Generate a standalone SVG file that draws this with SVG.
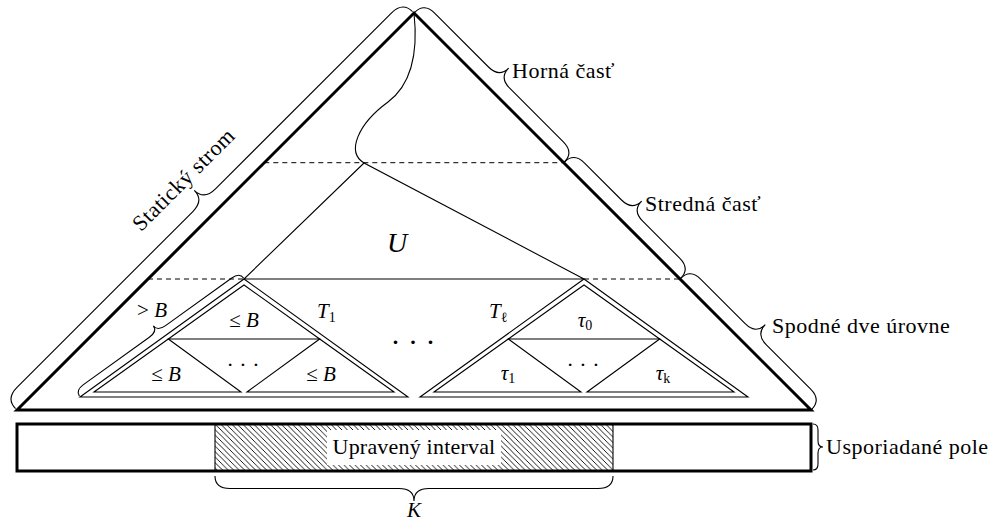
<svg xmlns="http://www.w3.org/2000/svg" width="994" height="522" viewBox="0 0 994 522">
<defs>
<style>
.thin{fill:none;stroke:#000;stroke-width:1.1;stroke-linejoin:miter}
.thick{fill:none;stroke:#000;stroke-width:3;stroke-linejoin:miter}
.dash{fill:none;stroke:#000;stroke-width:1;stroke-dasharray:5 4}
.brace{fill:none;stroke:#000;stroke-width:1.1}
.t{font-family:"Liberation Serif","Times New Roman",serif;font-size:21px;fill:#000}
.lab{font-size:22px;letter-spacing:0.5px}
.m{font-family:"Liberation Serif","Times New Roman",serif;font-size:21px;font-style:italic;fill:#000}
.c{text-anchor:middle}
.sub{font-size:14px;font-style:normal}
</style>
<pattern id="hatch" patternUnits="userSpaceOnUse" width="5.5" height="5.5">
<path d="M0,0 L5.5,5.5 M-1,4.5 L1,6.5 M4.5,-1 L6.5,1" stroke="#000" stroke-width="0.9"/>
</pattern>
</defs>
<rect width="994" height="522" fill="#fff"/>

<g id="array">
<rect x="215" y="424" width="398" height="47" fill="url(#hatch)"/>
<line x1="215" y1="424" x2="215" y2="471" class="thin"/>
<line x1="613" y1="424" x2="613" y2="471" class="thin"/>
<rect x="17" y="424" width="794" height="47" class="thick"/>
<rect x="327" y="430" width="174" height="35" fill="#fff"/>
<text x="414" y="454" class="t c" style="font-size:22px;letter-spacing:0.2px">Upravený interval</text>
</g>

<g id="static-tree">
<polygon points="17,410 414,13 811,410" class="thick"/>
</g>

<g id="levels">
<line x1="264.3" y1="162.7" x2="563.7" y2="162.7" class="dash"/>
<line x1="148" y1="279" x2="244" y2="279" class="dash"/>
<line x1="584" y1="279" x2="680" y2="279" class="dash"/>
</g>

<g id="U">
<polygon points="364,163 244,279 584,279" class="thin"/>
<text x="397" y="252" class="m c" style="font-size:28px">U</text>
</g>

<g id="T1">
<polygon points="80,397 244,279 408,397" class="thin"/>
<polygon points="168.3,339 244,285 319.7,339" class="thin"/>
<polygon points="94,392 168.3,339 241,392" class="thin"/>
<polygon points="247,392 319.7,339 394,392" class="thin"/>
<text x="317" y="318" class="m">T<tspan class="sub" dy="4">1</tspan></text>
<text x="244" y="327" class="t c">≤ <tspan font-style="italic">B</tspan></text>
<text x="166" y="381" class="t c">≤ <tspan font-style="italic">B</tspan></text>
<text x="321" y="381" class="t c">≤ <tspan font-style="italic">B</tspan></text>
<text x="243" y="372" class="t c" style="font-size:22px">· · ·</text>
</g>

<g id="between">
<text x="413" y="352" class="t c" style="font-size:30px">· · ·</text>
</g>

<g id="Tl">
<polygon points="420,397 584,279 748,397" class="thin"/>
<polygon points="508.3,339 584,285 659.7,339" class="thin"/>
<polygon points="434,392 508.3,339 581,392" class="thin"/>
<polygon points="587,392 659.7,339 734,392" class="thin"/>
<text x="489" y="318" class="m">T<tspan class="sub" dy="4">ℓ</tspan></text>
<text x="585" y="327" class="m c">τ<tspan class="sub" dy="3">0</tspan></text>
<text x="508" y="380" class="m c">τ<tspan class="sub" dy="3">1</tspan></text>
<text x="663" y="380" class="m c">τ<tspan class="sub" dy="3" font-style="italic">k</tspan></text>
<text x="583" y="372" class="t c" style="font-size:22px">· · ·</text>
</g>

<g id="connectors">
<path d="M414,13 C418,50 412,84 388,102 C358,124 346,152 364,163" class="thin"/>
</g>

<g id="brace-static" transform="translate(17,410) rotate(-45) translate(0,-2)">
<path class="brace" d="M0,0 Q0,-14 16,-14 L264.7,-14 Q280.7,-14 280.7,-28 Q280.7,-14 296.7,-14 L545.4,-14 Q561.4,-14 561.4,0"/>
<text x="280.7" y="-36" class="t lab c">Statický strom</text>
</g>

<g id="brace-top">
<path class="brace" transform="translate(414,13) rotate(45) translate(0,-1)" d="M0,0 Q0,-13.5 15,-13.5 L90.85,-13.5 Q105.85,-13.5 105.85,-27 Q105.85,-13.5 120.85,-13.5 L196.7,-13.5 Q211.7,-13.5 211.7,0"/>
<text x="512" y="78" class="t lab">Horná časť</text>
</g>

<g id="brace-middle">
<path class="brace" transform="translate(563.7,162.7) rotate(45) translate(0,-1)" d="M0,0 Q0,-13.5 15,-13.5 L67.25,-13.5 Q82.25,-13.5 82.25,-27 Q82.25,-13.5 97.25,-13.5 L149.5,-13.5 Q164.5,-13.5 164.5,0"/>
<text x="645" y="211" class="t lab">Stredná časť</text>
</g>

<g id="brace-bottom">
<path class="brace" transform="translate(680,279) rotate(45) translate(0,-1)" d="M0,0 Q0,-13.5 15,-13.5 L77.65,-13.5 Q92.65,-13.5 92.65,-27 Q92.65,-13.5 107.65,-13.5 L170.3,-13.5 Q185.3,-13.5 185.3,0"/>
<text x="772" y="333" class="t lab">Spodné dve úrovne</text>
</g>

<g id="brace-array">
<path class="brace" transform="translate(813,424) rotate(90)" d="M0,0 Q0,-5 6,-5 L17,-5 Q23,-5 23,-10 Q23,-5 29,-5 L40,-5 Q46,-5 46,0"/>
<text x="826" y="454" class="t lab">Usporiadané pole</text>
</g>

<g id="brace-K">
<path class="brace" transform="translate(613,476) rotate(180)" d="M0,0 Q0,-12.5 15,-12.5 L184,-12.5 Q199,-12.5 199,-25 Q199,-12.5 214,-12.5 L383,-12.5 Q398,-12.5 398,0"/>
<text x="414" y="517" class="m c">K</text>
</g>

<g id="brace-gtB">
<path class="brace" transform="translate(80,397) rotate(-35.74) translate(0,-1)" d="M0,0 Q0,-7 10,-7 L91.15,-7 Q101.15,-7 101.15,-14 Q101.15,-7 111.15,-7 L192.3,-7 Q202.3,-7 202.3,0"/>
<text x="152" y="317" class="t c">&gt; <tspan font-style="italic">B</tspan></text>
</g>
</svg>
